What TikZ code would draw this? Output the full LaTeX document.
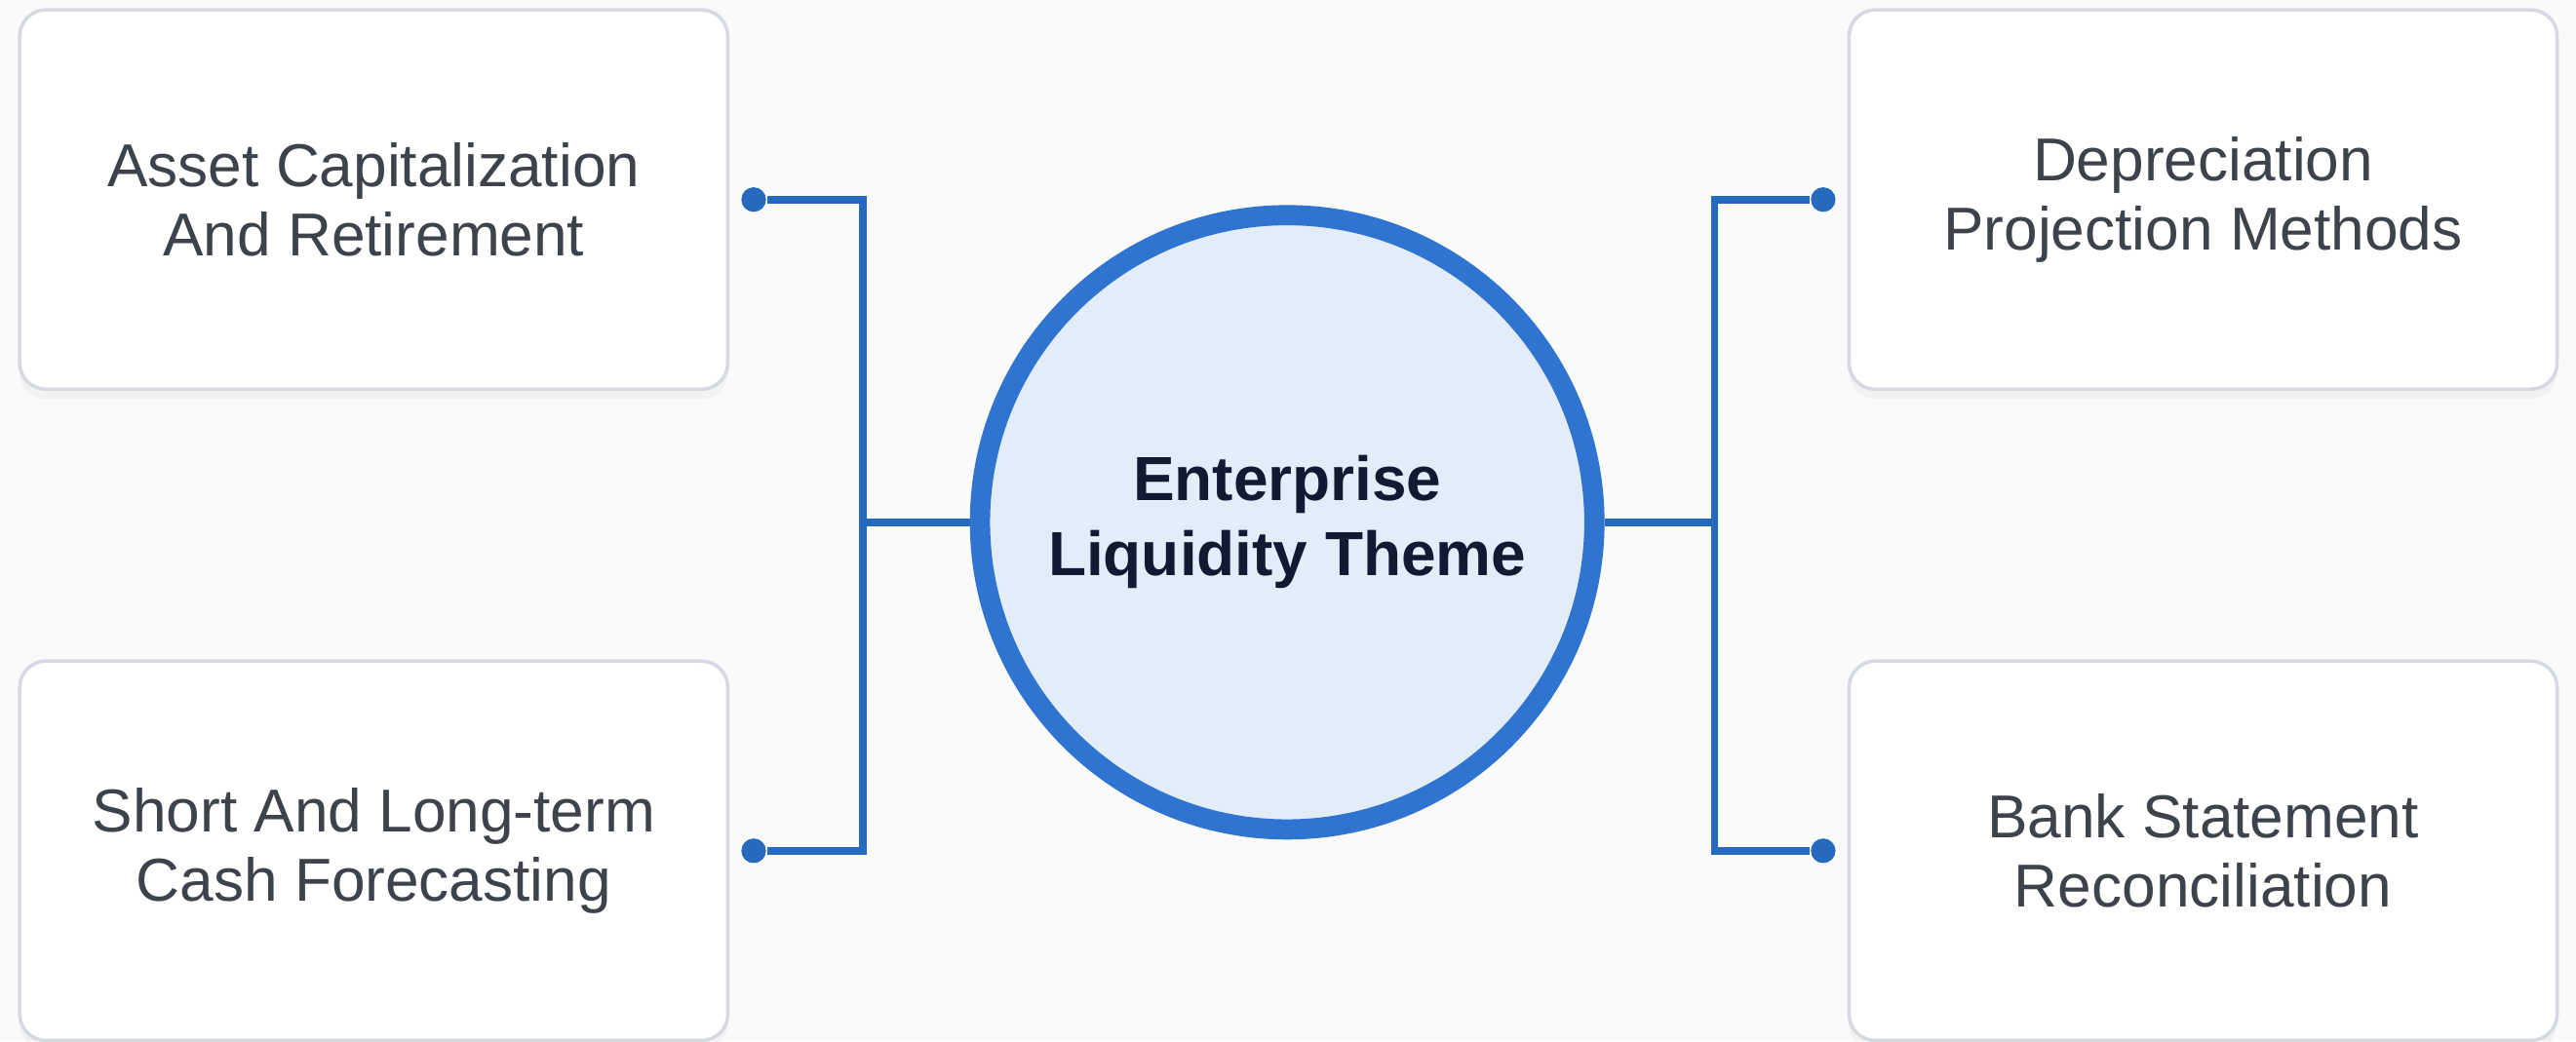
\documentclass[tikz,border=0pt]{standalone}
\usepackage{fontspec}
\setmainfont{Liberation Sans}
\usetikzlibrary{positioning,shadows}
\definecolor{BgClr}{RGB}{250,250,251}
\definecolor{RingClr}{RGB}{46,116,208}
\definecolor{HubFill}{RGB}{227,236,249}
\definecolor{LinkClr}{RGB}{38,106,190}
\definecolor{BoxLine}{RGB}{214,218,224}
\definecolor{LabelClr}{RGB}{62,66,74}
\definecolor{HubText}{RGB}{16,27,51}

\begin{document}
\begin{tikzpicture}[
  topic/.style={draw=BoxLine,line width=0.6pt,fill=white,rounded corners=0.16cm,
    minimum width=4.31cm,minimum height=2.31cm,align=center,text=LabelClr,
    font=\fontsize{10.5}{12}\selectfont,
    drop shadow={shadow xshift=0pt,shadow yshift=-0.06cm,opacity=0.06}},
  hub/.style={circle,draw=RingClr,line width=3.5pt,fill=HubFill,minimum size=3.74cm,
    align=center,text=HubText,font=\bfseries\fontsize{10.8}{13}\selectfont},
  link/.style={draw=LinkClr,line width=1.3pt},
  pin/.style={circle,fill=LinkClr,inner sep=0pt,minimum size=0.15cm}]

\fill[BgClr] (0,0) rectangle (15.68,6.34);
\useasboundingbox (0,0) rectangle (15.68,6.34);

\node[hub] (hub) at (7.835,3.16) {Enterprise\\Liquidity Theme};

\node[topic] (capit)   at (2.275,5.125) {Asset Capitalization\\And Retirement};
\node[topic] (cashfc)  at (2.275,1.16)  {Short And Long-term\\Cash Forecasting};
\node[topic] (deprec)  at (13.41,5.125) {Depreciation\\Projection Methods};
\node[topic] (bankrec) at (13.41,1.16)  {Bank Statement\\Reconciliation};

\coordinate[left=0.65cm of hub.west]  (ljoin);
\coordinate[right=0.67cm of hub.east] (rjoin);

\draw[link] (ljoin) -- (hub);
\draw[link] (rjoin) -- (hub);

\node[pin,right=0.065cm of capit]  (capdot)  {};
\node[pin,right=0.065cm of cashfc] (cashdot) {};
\node[pin,left=0.065cm of deprec]  (depdot)  {};
\node[pin,left=0.065cm of bankrec] (bankdot) {};

\draw[link] (capdot) -| (ljoin) |- (cashdot);
\draw[link] (depdot) -| (rjoin) |- (bankdot);

\end{tikzpicture}
\end{document}
